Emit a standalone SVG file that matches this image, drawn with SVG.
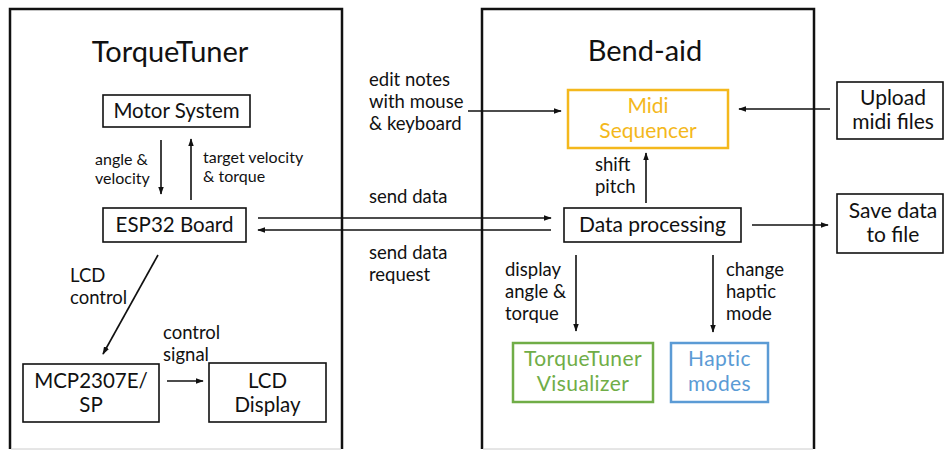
<svg xmlns="http://www.w3.org/2000/svg" width="944" height="450" viewBox="0 0 944 450">
<style>
text{font-family:Lato,"Noto Sans","Liberation Sans",sans-serif;fill:#111}
.t{font-size:29px}
.n{font-size:20.5px;text-anchor:middle}
.r{font-size:21px;text-anchor:middle}
.v{font-size:21px;text-anchor:middle;letter-spacing:0.4px}
.l{font-size:18.5px}
.s{font-size:16px}
.box{fill:#fff;stroke:#111;stroke-width:1.6}
.panel{fill:none;stroke:#111;stroke-width:2.5}
.c{stroke:#111;stroke-width:1.6;fill:none;marker-end:url(#ah)}
</style>
<defs>
<marker id="ah" viewBox="0 0 10 10" refX="9" refY="5" markerWidth="5" markerHeight="5" orient="auto" markerUnits="strokeWidth">
<path d="M0,1.5 L10,5 L0,8.5 Z" fill="#111"/>
</marker>
</defs>
<rect width="944" height="450" fill="#fff"/>
<g id="torquetuner-panel">
<path class="panel" d="M10,449 V9 H342 V449"/>
<line x1="11" y1="449" x2="341" y2="449" stroke="#ccc" stroke-width="1"/>
<text class="t" x="170" y="62" text-anchor="middle">TorqueTuner</text>
</g>
<g id="bendaid-panel">
<path class="panel" d="M482,449 V9 H814 V449"/>
<line x1="483" y1="449" x2="813" y2="449" stroke="#ccc" stroke-width="1"/>
<text class="t" x="645" y="61" text-anchor="middle">Bend-aid</text>
</g>
<g id="motor-system">
<rect class="box" x="103" y="95" width="147" height="32"/>
<text class="n" x="176.5" y="118">Motor System</text>
</g>
<g id="esp32">
<rect class="box" x="103" y="208" width="143" height="34"/>
<text class="n" x="174.5" y="232">ESP32 Board</text>
</g>
<g id="mcp">
<rect class="box" x="23" y="364" width="136" height="58"/>
<text class="n" x="91" y="388">MCP2307E/</text>
<text class="n" x="91" y="412">SP</text>
</g>
<g id="lcd">
<rect class="box" x="209" y="363" width="117" height="59"/>
<text class="n" x="267.5" y="388">LCD</text>
<text class="n" x="267.5" y="412">Display</text>
</g>
<g id="midi-sequencer">
<rect x="568" y="90" width="160" height="58" fill="#fff" stroke="#F4B81C" stroke-width="2.5"/>
<text class="r" x="648" y="113" style="fill:#F4B81C">Midi</text>
<text class="r" x="648" y="138" style="fill:#F4B81C">Sequencer</text>
</g>
<g id="data-processing">
<rect class="box" x="564" y="208" width="177" height="34"/>
<text class="r" x="652.5" y="232">Data processing</text>
</g>
<g id="visualizer">
<rect x="513" y="343" width="140" height="59" fill="#fff" stroke="#70AD47" stroke-width="2.5"/>
<text class="v" x="583" y="366" style="fill:#70AD47">TorqueTuner</text>
<text class="v" x="583" y="391" style="fill:#70AD47">Visualizer</text>
</g>
<g id="haptic-modes">
<rect x="671" y="343" width="97" height="59" fill="#fff" stroke="#5B9BD5" stroke-width="2.5"/>
<text class="v" x="719.5" y="366" style="fill:#5B9BD5">Haptic</text>
<text class="v" x="719.5" y="391" style="fill:#5B9BD5">modes</text>
</g>
<g id="upload">
<rect class="box" x="837" y="82" width="106" height="57"/>
<text class="r" x="893" y="105">Upload</text>
<text class="r" x="893" y="129">midi files</text>
</g>
<g id="save">
<rect class="box" x="837" y="194" width="106" height="59"/>
<text class="r" x="893" y="218">Save data</text>
<text class="r" x="893" y="242">to file</text>
</g>
<g id="connectors">
<line class="c" x1="161" y1="140" x2="161" y2="194"/>
<line class="c" x1="191" y1="200" x2="191" y2="139"/>
<line class="c" x1="258" y1="218" x2="551" y2="218"/>
<line class="c" x1="551" y1="230" x2="258" y2="230"/>
<line class="c" x1="158" y1="255" x2="103" y2="354"/>
<line class="c" x1="167" y1="381" x2="203" y2="381"/>
<line class="c" x1="468" y1="111" x2="561" y2="111"/>
<line class="c" x1="830" y1="109" x2="739" y2="109"/>
<line class="c" x1="646" y1="203" x2="646" y2="153"/>
<line class="c" x1="752" y1="225" x2="828" y2="225"/>
<line class="c" x1="576" y1="255" x2="576" y2="331"/>
<line class="c" x1="713" y1="255" x2="713" y2="332"/>
</g>
<g id="labels">
<text class="s" x="95" y="165">angle &amp;</text>
<text class="s" x="95" y="184">velocity</text>
<text class="s" x="203" y="163">target velocity</text>
<text class="s" x="203" y="182">&amp; torque</text>
<text class="l" x="70" y="282">LCD</text>
<text class="l" x="70" y="304">control</text>
<text class="l" x="163" y="339">control</text>
<text class="l" x="163" y="361">signal</text>
<text class="l" x="369" y="86">edit notes</text>
<text class="l" x="369" y="108">with mouse</text>
<text class="l" x="369" y="130">&amp; keyboard</text>
<text class="l" x="369" y="203">send data</text>
<text class="l" x="369" y="259">send data</text>
<text class="l" x="369" y="281">request</text>
<text class="l" x="595" y="171">shift</text>
<text class="l" x="595" y="193">pitch</text>
<text class="l" x="505" y="276">display</text>
<text class="l" x="505" y="298">angle &amp;</text>
<text class="l" x="505" y="320">torque</text>
<text class="l" x="726" y="276">change</text>
<text class="l" x="726" y="298">haptic</text>
<text class="l" x="726" y="320">mode</text>
</g>
</svg>
